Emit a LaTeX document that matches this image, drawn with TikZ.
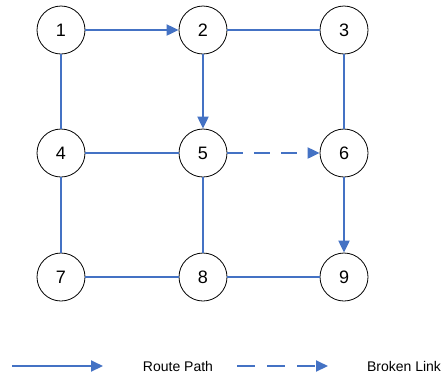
\documentclass[tikz,border=0pt]{standalone}
\usepackage{fontspec}
\setmainfont{Liberation Sans}
\usetikzlibrary{arrows.meta}
\definecolor{linkblue}{HTML}{4472C4}
\begin{document}
\begin{tikzpicture}[x=1pt,y=-1pt,
  router/.style={circle,draw=black,line width=0.8pt,minimum size=48pt,inner sep=0pt,font=\fontsize{18}{20}\selectfont},
  link/.style={draw=linkblue,line width=2pt},
  route/.style={link,-{Triangle[length=12pt,width=11pt]}},
  broken/.style={route,dash pattern=on 16pt off 11pt},
  legendtext/.style={font=\fontsize{14}{16}\selectfont,inner sep=0pt}]
\useasboundingbox (0,0) rectangle (443,376);
\node[router] (n1) at (61,30) {1};
\node[router] (n2) at (203,30) {2};
\node[router] (n3) at (344,30) {3};
\node[router] (n4) at (61,153) {4};
\node[router] (n5) at (203,153) {5};
\node[router] (n6) at (344,153) {6};
\node[router] (n7) at (61,277) {7};
\node[router] (n8) at (203,277) {8};
\node[router] (n9) at (344,277) {9};
\draw[route] (n1) -- (n2);
\draw[link] (n2) -- (n3);
\draw[link] (n1) -- (n4);
\draw[route] (n2) -- (n5);
\draw[link] (n3) -- (n6);
\draw[link] (n4) -- (n5);
\draw[broken] (n5) -- (n6);
\draw[route] (n6) -- (n9);
\draw[link] (n4) -- (n7);
\draw[link] (n5) -- (n8);
\draw[link] (n7) -- (n8);
\draw[link] (n8) -- (n9);
\coordinate (a1) at (12,366);
\coordinate (a2) at (103,366);
\coordinate (b1) at (237,366);
\coordinate (b2) at (328,366);
\draw[route] (a1) -- (a2);
\draw[broken,dash pattern=on 18pt off 12pt] (b1) -- (b2);
\node[legendtext] (l1) at (178,366) {Route Path};
\node[legendtext] (l2) at (404,366) {Broken Link};
\end{tikzpicture}
\end{document}
